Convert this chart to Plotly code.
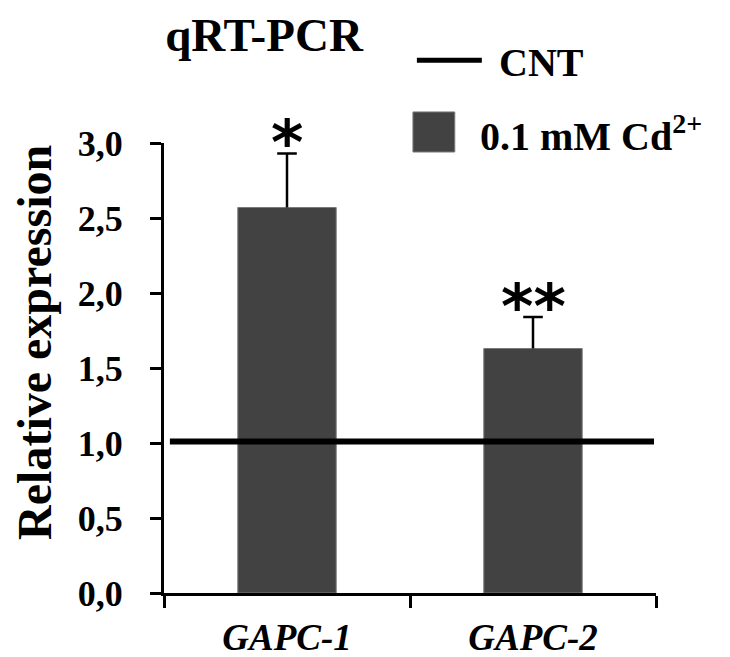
import plotly.graph_objects as go

# ---- data ----
genes = ["GAPC-1", "GAPC-2"]
cd_values = [2.57, 1.63]
cd_errors = [0.36, 0.21]
cnt_value = [1.01]
significance = ["*", "**"]
y_ticks = [0.0, 0.5, 1.0, 1.5, 2.0, 2.5, 3.0]

BAR_COLOR = "#424242"
SERIF = "Liberation Serif, Times New Roman, serif"

# the page body has an 8px margin; the figure is sized so it fits the window
W, H, OFF = 722, 649, 8

x_pos = list(range(len(genes)))
err_tops = [v + e for v, e in zip(cd_values, cd_errors)]

fig = go.Figure()

fig.add_trace(go.Bar(
    x=x_pos, y=cd_values, width=0.4,
    marker=dict(color=BAR_COLOR, line=dict(color="#7a7a7a", width=1)),
    error_y=dict(type="data", symmetric=False, array=cd_errors,
                 arrayminus=[0] * len(cd_errors),
                 color="black", thickness=2.5, width=0),
    showlegend=False, name="0.1 mM Cd2+",
))

# caps of the (upper-only) error bars
fig.add_trace(go.Scatter(
    x=x_pos, y=err_tops, mode="markers",
    marker=dict(symbol="line-ew", size=14,
                line=dict(color="black", width=2.5)),
    showlegend=False, hoverinfo="skip", cliponaxis=False,
))

fig.add_trace(go.Scatter(
    x=[-0.476, 1.492], y=cnt_value * 2, mode="lines",
    line=dict(color="black", width=6), showlegend=False, name="CNT",
    cliponaxis=False,
))

# significance marks
for xi, top, s in zip(x_pos, err_tops, significance):
    fig.add_annotation(x=xi, y=top, text=s, showarrow=False,
                       xref="x", yref="y", yanchor="middle", yshift=11,
                       font=dict(family="DejaVu Sans", size=62, color="black",
                                 weight="bold"))

# y-axis title
fig.add_annotation(x=-0.262, y=0.556, xref="paper", yref="paper",
                   xanchor="center", yanchor="middle",
                   text="<b>Relative expression</b>", textangle=-90,
                   showarrow=False,
                   font=dict(family=SERIF, size=48, color="black"))

# legend (drawn manually)
fig.add_shape(type="line", xref="paper", yref="paper",
              x0=0.514, x1=0.646, y0=1.184, y1=1.184,
              line=dict(color="black", width=5))
fig.add_annotation(x=0.677, y=1.178, xref="paper", yref="paper",
                   xanchor="left", yanchor="middle", showarrow=False,
                   text="<b>CNT</b>",
                   font=dict(family=SERIF, size=40, color="black"))
fig.add_shape(type="rect", xref="paper", yref="paper",
              x0=0.506, x1=0.591, y0=0.98, y1=1.069,
              fillcolor=BAR_COLOR, line=dict(color="#7a7a7a", width=1))
fig.add_annotation(x=0.638, y=1.022, xref="paper", yref="paper",
                   xanchor="left", yanchor="middle", showarrow=False,
                   text="<b>0.1 mM Cd<sup>2+</sup></b>",
                   font=dict(family=SERIF, size=40, color="black"))

fig.update_layout(
    width=W, height=H,
    margin=dict(l=164 - OFF, r=74, t=143 - OFF, b=64, autoexpand=False),
    plot_bgcolor="white", paper_bgcolor="white",
    separators=",.",
    title=dict(text="<b>qRT-PCR</b>", xref="container", x=(264 - OFF) / W,
               xanchor="center", yref="container",
               y=1 - (35 - OFF) / H, yanchor="middle",
               font=dict(family=SERIF, size=47, color="black")),
    xaxis=dict(
        range=[-0.5, 1.5], tickvals=x_pos, ticktext=genes,
        ticks="", showgrid=False, zeroline=False, automargin=False,
        showline=True, linecolor="black", linewidth=3,
        tickfont=dict(family=SERIF, size=37, color="black",
                      weight="bold", style="italic"),
        ticklabelstandoff=10,
        minor=dict(tick0=-0.5, dtick=1, ticks="outside", ticklen=12,
                   tickwidth=3, tickcolor="black", showgrid=False),
    ),
    yaxis=dict(
        range=[0, 3.0], tickvals=y_ticks, tickformat=".1f",
        ticks="outside", ticklen=11, tickwidth=3, tickcolor="black",
        showgrid=False, zeroline=False, automargin=False,
        showline=True, linecolor="black", linewidth=3,
        tickfont=dict(family=SERIF, size=36, color="black", weight="bold"),
        ticklabelstandoff=20,
    ),
)

fig.write_html("out.html")
